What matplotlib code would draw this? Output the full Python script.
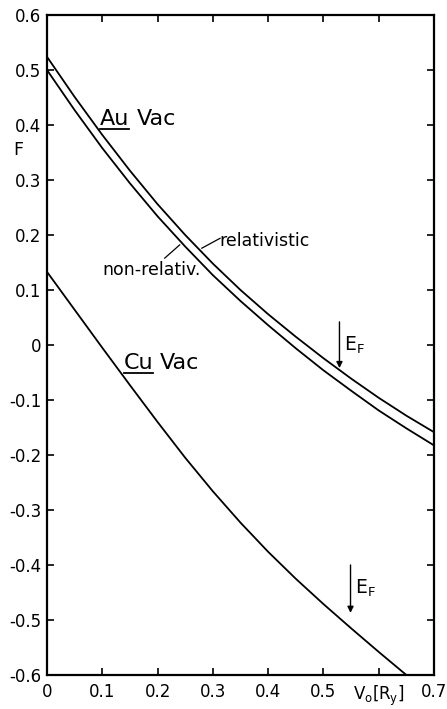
import matplotlib
matplotlib.use("Agg")
import matplotlib.pyplot as plt

# Data
v = [0.0, 0.05, 0.1, 0.15, 0.2, 0.25, 0.3, 0.35, 0.4, 0.45, 0.5, 0.55, 0.6, 0.65, 0.7]
au_rel = [0.524, 0.451, 0.382, 0.317, 0.256, 0.200, 0.148, 0.100, 0.056, 0.015,
          -0.024, -0.061, -0.096, -0.1285, -0.1585]
au_nonrel = [0.500, 0.427, 0.358, 0.294, 0.234, 0.179, 0.127, 0.080, 0.036, -0.006,
             -0.046, -0.083, -0.119, -0.1515, -0.1825]
v_cu = [0.0, 0.05, 0.1, 0.15, 0.2, 0.25, 0.3, 0.35, 0.4, 0.45, 0.5, 0.55, 0.6, 0.65]
cu = [0.133, 0.064, -0.005, -0.073, -0.140, -0.205, -0.266, -0.323, -0.376, -0.425,
      -0.471, -0.515, -0.558, -0.600]

# Fermi energy markers (V0, arrow top, arrow tip)
ef_au = (0.529, 0.042, -0.042)
ef_cu = (0.549, -0.400, -0.487)

xticks = [0, 0.1, 0.2, 0.3, 0.4, 0.5, 0.6, 0.7]
xticklabels = ["0", "0.1", "0.2", "0.3", "0.4", "0.5", r"V$_\mathrm{o}$[R$_\mathrm{y}$]", "0.7"]
yticks = [0.6, 0.5, 0.4, 0.3, 0.2, 0.1, 0.0, -0.1, -0.2, -0.3, -0.4, -0.5, -0.6]
yticklabels = ["0.6", "0.5", "0.4", "0.3", "0.2", "0.1", "0", "-0.1", "-0.2", "-0.3", "-0.4", "-0.5", "-0.6"]

fig = plt.figure(figsize=(4.47, 7.09), dpi=100)
ax = fig.add_axes([47/447, 34/709, 387/447, 660/709])

lw = 1.3
ax.plot(v, au_rel, color="black", lw=lw)
ax.plot(v, au_nonrel, color="black", lw=lw)
ax.plot(v_cu, cu, color="black", lw=lw, clip_on=True)

ax.set_xlim(0, 0.7)
ax.set_ylim(-0.6, 0.6)
ax.set_xticks(xticks)
ax.set_xticklabels(xticklabels)
ax.set_yticks(yticks)
ax.set_yticklabels(yticklabels)
ax.tick_params(direction="in", length=5, width=1.2, top=True, right=True,
               labelsize=12, colors="black")
ax.tick_params(axis="x", pad=6)
ax.tick_params(axis="y", pad=4)
for s in ax.spines.values():
    s.set_linewidth(1.6)

# y label "F"
ax.text(-0.075, 0.355, "F", transform=ax.get_yaxis_transform(), fontsize=12.5,
        ha="center", va="center")

# Arrows for E_F
for (xv, ytop, ytip), lab_y in [(ef_au, 0.0), (ef_cu, -0.442)]:
    ax.annotate("", xy=(xv, ytip), xytext=(xv, ytop),
                arrowprops=dict(arrowstyle="-|>", color="black", lw=1.0,
                                mutation_scale=9, shrinkA=0, shrinkB=0))
    ax.text(xv + 0.008, lab_y, r"E$_\mathrm{F}$", fontsize=13.5, ha="left", va="center")

# Material labels with underlined element symbols
t1 = ax.text(0.095, 0.400, "Au", fontsize=16, ha="left", va="baseline")
ax.text(0.163, 0.400, "Vac", fontsize=16, ha="left", va="baseline")
t3 = ax.text(0.139, -0.043, "Cu", fontsize=16, ha="left", va="baseline")
ax.text(0.204, -0.043, "Vac", fontsize=16, ha="left", va="baseline")

fig.canvas.draw()
r = fig.canvas.get_renderer()
inv = ax.transData.inverted()
for t in (t1, t3):
    bb = t.get_window_extent(renderer=r)
    x0, _ = inv.transform((bb.x0, bb.y0))
    x1, _ = inv.transform((bb.x1, bb.y0))
    yb = t.get_position()[1] - 0.007
    ax.plot([x0, x1], [yb, yb], color="black", lw=1.3)

# relativistic / non-relativ. labels with leader lines
ax.text(0.312, 0.190, "relativistic", fontsize=12.5, ha="left", va="center")
ax.plot([0.280, 0.313], [0.176, 0.194], color="black", lw=0.9)
ax.text(0.101, 0.137, "non-relativ.", fontsize=12.5, ha="left", va="center")
ax.plot([0.240, 0.213], [0.182, 0.158], color="black", lw=0.9)

fig.savefig("out.png", dpi=100)
